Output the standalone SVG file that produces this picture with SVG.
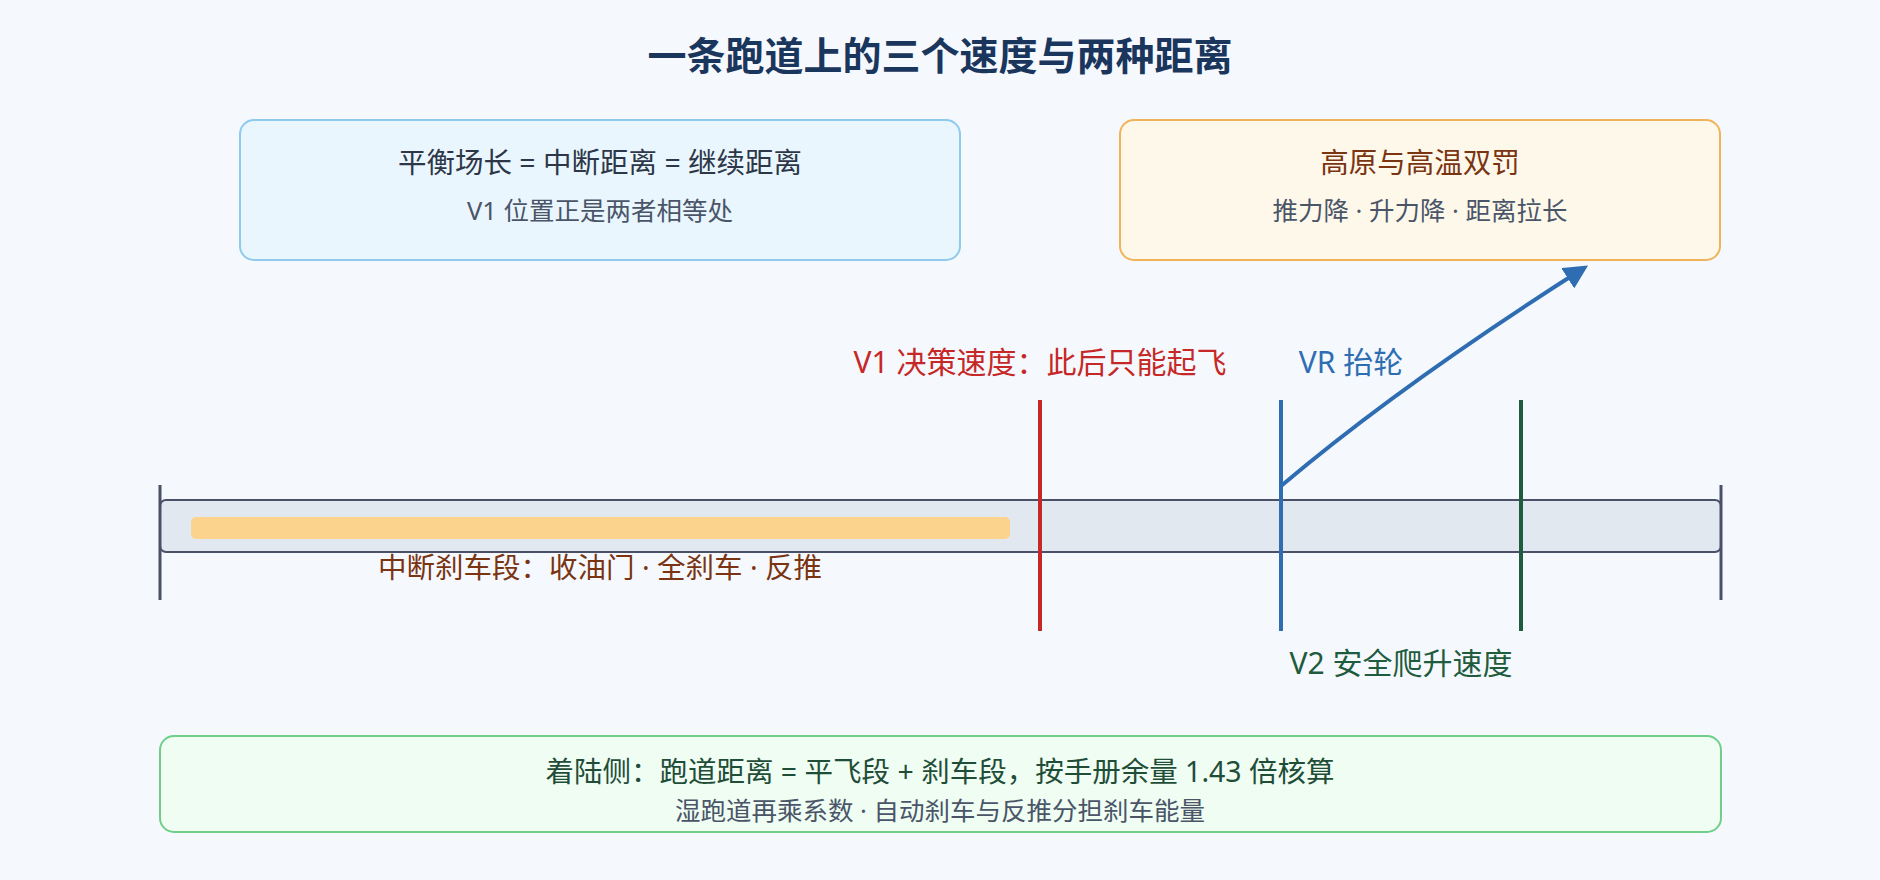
<svg xmlns="http://www.w3.org/2000/svg" width="1880" height="880" viewBox="0 0 1880 880">
<defs>
<style>
text{font-family:"Noto Sans","Noto Sans CJK SC",sans-serif;text-anchor:middle}
.t{font-size:28.5px}
.s{font-size:25.5px;fill:#4a5568}
.lbl{font-size:30px}
</style>
<marker id="ah" viewBox="0 0 10 10" refX="8" refY="5" markerWidth="6" markerHeight="6" orient="auto"><path d="M0,0L10,5L0,10z" fill="#2f6db3"/></marker>
</defs>
<rect width="1880" height="880" fill="#f5f9fd"/>
<text x="940" y="70" font-size="39" font-weight="bold" fill="#1b365d">一条跑道上的三个速度与两种距离</text>
<g id="balance">
<rect x="240" y="120" width="720" height="140" rx="14" fill="#eaf6fe" stroke="#8ec9ee" stroke-width="2"/>
<text class="t" x="600" y="173" fill="#2d3748">平衡场长 = 中断距离 = 继续距离</text>
<text class="s" x="600" y="220">V1 位置正是两者相等处</text>
</g>
<g id="hot">
<rect x="1120" y="120" width="600" height="140" rx="14" fill="#fef8ea" stroke="#f0b35a" stroke-width="2"/>
<text class="t" x="1420" y="173" fill="#7a3412">高原与高温双罚</text>
<text class="s" x="1420" y="220">推力降 · 升力降 · 距离拉长</text>
</g>
<g id="runway">
<rect x="160" y="500" width="1561" height="52" rx="6" fill="#e2e8f0" stroke="#4a5068" stroke-width="2"/>
<line x1="160" y1="485" x2="160" y2="600" stroke="#4a5068" stroke-width="3"/>
<line x1="1721" y1="485" x2="1721" y2="600" stroke="#4a5068" stroke-width="3"/>
<rect x="191" y="517" width="819" height="22" rx="5" fill="#fbd38d"/>
<text class="t" x="600" y="578" fill="#7a3412">中断刹车段：收油门 · 全刹车 · 反推</text>
</g>
<g id="connectors">
<path d="M1281,486 Q1400,385 1584,268" fill="none" stroke="#2f6db3" stroke-width="4" marker-end="url(#ah)"/>
</g>
<g id="v1">
<line x1="1040" y1="400" x2="1040" y2="631" stroke="#c62828" stroke-width="4"/>
<text class="lbl" x="1040" y="373" fill="#c62828">V1 决策速度：此后只能起飞</text>
</g>
<g id="vr">
<line x1="1281" y1="400" x2="1281" y2="631" stroke="#2f6db3" stroke-width="4"/>
<text class="lbl" x="1351" y="373" fill="#2f6db3">VR 抬轮</text>
</g>
<g id="v2">
<line x1="1521" y1="400" x2="1521" y2="631" stroke="#1f5c3e" stroke-width="4"/>
<text class="lbl" x="1401" y="674" fill="#1f5c3e">V2 安全爬升速度</text>
</g>
<g id="landing">
<rect x="160" y="736" width="1561" height="96" rx="14" fill="#effdf3" stroke="#6fcf8a" stroke-width="2"/>
<text class="t" x="940" y="782" fill="#1f4d38">着陆侧：跑道距离 = 平飞段 + 刹车段，按手册余量 1.43 倍核算</text>
<text class="s" x="940" y="820">湿跑道再乘系数 · 自动刹车与反推分担刹车能量</text>
</g>
</svg>
